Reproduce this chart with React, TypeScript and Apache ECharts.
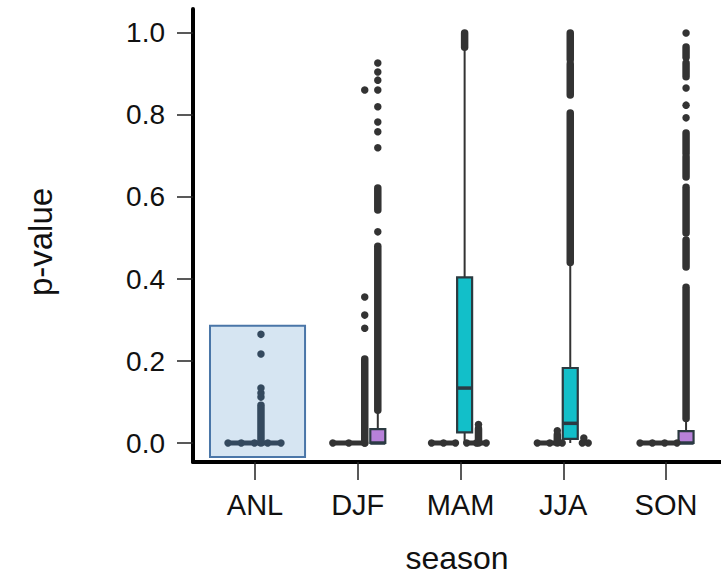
import React, { useEffect, useRef } from "react";
import * as echarts from "echarts";

// ---------------- data ----------------
const categories = ["ANL", "DJF", "MAM", "JJA", "SON"];
const yTicks = [0, 0.2, 0.4, 0.6, 0.8, 1.0];

// box statistics: [categoryIndex, whiskerLow, q1, median, q3, whiskerHigh, colourIndex]
const boxStats = [
  [1, 0, 0, 0, 0.034, 0.075, 1],
  [2, 0, 0.026, 0.134, 0.404, 0.965, 0],
  [3, 0, 0.01, 0.048, 0.183, 0.434, 0],
  [4, 0, 0, 0, 0.029, 0.056, 1],
];

// outlier / swarm columns: individual points and dense runs of overlapping points
const anlColPoints = [0.112, 0.122, 0.134, 0.217, 0.265];
const anlColDense = [[0, 0.092]];
const djfLeftPoints = [0.28, 0.312, 0.356, 0.861];
const djfLeftDense = [[0, 0.205]];
const djfBoxPoints = [0.515, 0.72, 0.759, 0.783, 0.82, 0.861, 0.885, 0.905, 0.927];
const djfBoxDense = [[0.08, 0.48], [0.568, 0.622]];
const mamBoxPoints: number[] = [];
const mamBoxDense = [[0.965, 1.0]];
const mamRightPoints = [0.045];
const mamRightDense = [[0, 0.035]];
const jjaLeftPoints = [0.03];
const jjaLeftDense = [[0, 0.02]];
const jjaBoxPoints: number[] = [];
const jjaBoxDense = [[0.44, 0.805], [0.849, 0.925], [0.935, 1.0]];
const jjaRightPoints = [0.012];
const jjaRightDense: number[][] = [];
const sonBoxPoints = [1.0, 0.866, 0.824, 0.793];
const sonBoxDense = [
  [0.941, 0.966], [0.893, 0.927], [0.707, 0.756], [0.649, 0.698],
  [0.512, 0.624], [0.429, 0.495], [0.06, 0.38],
];

// swarm rows of zero p-values: [categoryIndex, fromOffset, toOffset]
const zeroRows = [
  [0, -0.263, 0.253],
  [1, -0.243, 0.068],
  [2, -0.282, -0.049],
  [2, 0.06, 0.25],
  [3, -0.253, -0.01],
  [3, 0.185, 0.243],
  [4, -0.253, 0.107],
];

// highlighted ANL region: [xFrom, xTo, yFrom, yTo]
const highlight = [[-0.438, 0.487, -0.034, 0.286]];

// ---------------- layout (dodge offsets) ----------------
const boxOffsets = [0.195, 0.04, 0.068, 0.195];
const columns = [
  { cat: 0, off: 0.058, points: anlColPoints, dense: anlColDense, anl: true },
  { cat: 1, off: 0.068, points: djfLeftPoints, dense: djfLeftDense, anl: false },
  { cat: 1, off: 0.195, points: djfBoxPoints, dense: djfBoxDense, anl: false },
  { cat: 2, off: 0.04, points: mamBoxPoints, dense: mamBoxDense, anl: false },
  { cat: 2, off: 0.175, points: mamRightPoints, dense: mamRightDense, anl: false },
  { cat: 3, off: -0.058, points: jjaLeftPoints, dense: jjaLeftDense, anl: false },
  { cat: 3, off: 0.068, points: jjaBoxPoints, dense: jjaBoxDense, anl: false },
  { cat: 3, off: 0.2, points: jjaRightPoints, dense: jjaRightDense, anl: false },
  { cat: 4, off: 0.195, points: sonBoxPoints, dense: sonBoxDense, anl: false },
];

const DOT = "#333333";
const ANL_DOT = "#34495e";
const BOX_FILLS = ["#12bfc9", "#b781d9"];
const FONT = "Liberation Sans, Arial, sans-serif";

export default function App() {
  const ref = useRef<HTMLDivElement>(null);
  useEffect(() => {
    document.body.style.margin = "0";
    if (!ref.current) return;
    const chart = echarts.init(ref.current, null, { renderer: "svg" });

    const boxData = boxStats.map((b, i) => [b[0] + boxOffsets[i], b[1], b[2], b[3], b[4], b[5], b[6]]);
    const pointData: any[] = [];
    const denseData: any[] = [];
    columns.forEach((c) => {
      c.points.forEach((v) => pointData.push({ value: [c.cat + c.off, v], itemStyle: { color: c.anl ? ANL_DOT : DOT } }));
      c.dense.forEach((d) => denseData.push([c.cat + c.off, d[0], d[1], c.anl ? 1 : 0]));
    });
    const rowData = zeroRows.map((r) => [r[0] + r[1], r[0] + r[2], r[0] === 0 ? 1 : 0]);

    const option: any = {
      animation: false,
      grid: { left: 193, right: 0, top: 9, bottom: 118, containLabel: false, outerBoundsMode: "none" },
      xAxis: {
        type: "value",
        min: -0.6034,
        max: 4.535,
        axisLine: { show: true, onZero: false, lineStyle: { color: "#000", width: 4 } },
        axisTick: { show: true, customValues: [0, 1, 2, 3, 4], length: 18, lineStyle: { color: "#222", width: 1.5 } },
        axisLabel: {
          customValues: [0, 1, 2, 3, 4],
          formatter: (v: number) => categories[Math.round(v)] ?? "",
          margin: 28,
          fontSize: 29,
          color: "#111",
          fontFamily: FONT,
        },
        splitLine: { show: false },
      },
      yAxis: {
        type: "value",
        min: -0.0463,
        max: 1.0585,
        axisLine: { show: true, onZero: false, lineStyle: { color: "#000", width: 4 } },
        axisTick: { show: true, customValues: yTicks, length: 16, lineStyle: { color: "#222", width: 1.5 } },
        axisLabel: {
          customValues: yTicks,
          formatter: (v: number) => v.toFixed(1),
          margin: 28,
          fontSize: 28,
          color: "#111",
          fontFamily: FONT,
        },
        splitLine: { show: false },
      },
      graphic: [
        {
          type: "text",
          x: 40,
          y: 242,
          rotation: Math.PI / 2,
          style: { text: "p-value", fontSize: 33, fontFamily: FONT, fill: "#111", align: "center", verticalAlign: "middle" },
        },
        {
          type: "text",
          x: 457,
          y: 558,
          style: { text: "season", fontSize: 32, fontFamily: FONT, fill: "#111", align: "center", verticalAlign: "middle" },
        },
      ],
      series: [
        {
          type: "custom",
          z: 1,
          data: highlight,
          renderItem: (_p: any, api: any) => {
            const a = api.coord([api.value(0), api.value(3)]);
            const b = api.coord([api.value(1), api.value(2)]);
            return {
              type: "rect",
              shape: { x: a[0], y: a[1], width: b[0] - a[0], height: b[1] - a[1] },
              style: { fill: "#d6e5f2", stroke: "#4a76a8", lineWidth: 2 },
            };
          },
        },
        {
          type: "custom",
          z: 2,
          data: boxData,
          renderItem: (_p: any, api: any) => {
            const x = api.value(0);
            const pWlo = api.coord([x, api.value(1)]);
            const pQ1 = api.coord([x, api.value(2)]);
            const pMed = api.coord([x, api.value(3)]);
            const pQ3 = api.coord([x, api.value(4)]);
            const pWhi = api.coord([x, api.value(5)]);
            const fill = BOX_FILLS[api.value(6)];
            const hw = 7.5;
            const cx = pQ1[0];
            return {
              type: "group",
              children: [
                { type: "line", shape: { x1: cx, y1: pWhi[1], x2: cx, y2: pQ3[1] }, style: { stroke: "#333", lineWidth: 2 } },
                { type: "line", shape: { x1: cx, y1: pQ1[1], x2: cx, y2: pWlo[1] }, style: { stroke: "#333", lineWidth: 2 } },
                {
                  type: "rect",
                  shape: { x: cx - hw, y: pQ3[1], width: hw * 2, height: Math.max(pQ1[1] - pQ3[1], 1) },
                  style: { fill, stroke: "#2b3a40", lineWidth: 2.2 },
                },
                { type: "line", shape: { x1: cx - hw, y1: pMed[1], x2: cx + hw, y2: pMed[1] }, style: { stroke: "#2b3a44", lineWidth: 3.5 } },
              ],
            };
          },
        },
        {
          type: "custom",
          z: 3,
          data: rowData,
          renderItem: (_p: any, api: any) => {
            const p0 = api.coord([api.value(0), 0]);
            const p1 = api.coord([api.value(1), 0]);
            const color = api.value(2) ? ANL_DOT : DOT;
            const len = p1[0] - p0[0];
            const n = Math.max(1, Math.round(len / 13));
            const children: any[] = [
              { type: "line", shape: { x1: p0[0], y1: p0[1], x2: p1[0], y2: p1[1] }, style: { stroke: color, lineWidth: 5, lineCap: "round" } },
            ];
            for (let i = 0; i <= n; i++) {
              children.push({ type: "circle", shape: { cx: p0[0] + (len * i) / n, cy: p0[1], r: 3.7 }, style: { fill: color } });
            }
            return { type: "group", children };
          },
        },
        {
          type: "custom",
          z: 4,
          data: denseData,
          renderItem: (_p: any, api: any) => {
            const a = api.coord([api.value(0), api.value(1)]);
            const b = api.coord([api.value(0), api.value(2)]);
            const color = api.value(3) ? ANL_DOT : DOT;
            return {
              type: "line",
              shape: { x1: a[0], y1: a[1], x2: b[0], y2: b[1] },
              style: { stroke: color, lineWidth: 7.5, lineCap: "round" },
            };
          },
        },
        {
          type: "scatter",
          z: 5,
          symbol: "circle",
          symbolSize: 7.5,
          data: pointData,
          itemStyle: { opacity: 1 },
        },
      ],
    };
    chart.setOption(option);
    return () => chart.dispose();
  }, []);
  return <div ref={ref} style={{ width: 721, height: 580 }} />;
}
